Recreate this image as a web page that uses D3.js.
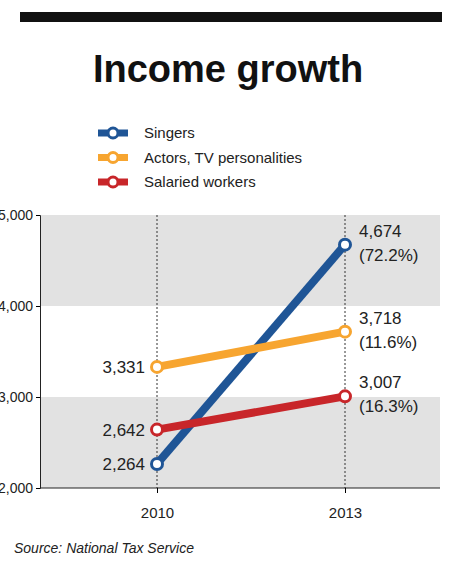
<!DOCTYPE html><html><head><script src="https://cdn.jsdelivr.net/npm/d3@7"></script>
<style>body{margin:0;background:#fff;font-family:"Liberation Sans",Arial,sans-serif}</style></head><body>
<script>
const years=["2010","2013"];
const seriesNames=["Singers","Actors, TV personalities","Salaried workers"];
const colors=["#1f5596","#f7a530","#c8262a"];
const singers=[2264,4674], actors=[3331,3718], workers=[2642,3007];
const pct=["(72.2%)","(11.6%)","(16.3%)"];
const yTicks=[2000,3000,4000,5000];
const series=[singers,actors,workers];
const W=450,H=564;
const svg=d3.select("body").append("svg").attr("width",W).attr("height",H);
svg.append("rect").attr("x",20).attr("y",12).attr("width",422).attr("height",10).attr("fill","#111");
svg.append("text").attr("x",228).attr("y",82).attr("text-anchor","middle").attr("font-size",38).attr("font-weight","bold").attr("fill","#111").text("Income growth");
const y=d3.scaleLinear().domain([2000,5000]).range([488,215]);
const x=d3.scalePoint().domain(years).range([157,345]);
const L=40,R=440;
[[4000,5000],[2000,3000]].forEach(b=>svg.append("rect").attr("x",L).attr("width",R-L).attr("y",y(b[1])).attr("height",y(b[0])-y(b[1])).attr("fill","#e2e2e2"));
years.forEach(d=>svg.append("line").attr("x1",x(d)).attr("x2",x(d)).attr("y1",y(5000)).attr("y2",y(2000)).attr("stroke","#333").attr("stroke-dasharray","2,2"));
const ya=svg.append("g").attr("transform",`translate(${L},0)`).call(d3.axisLeft(y).tickValues(yTicks).tickFormat(d3.format(",")).tickSize(4).tickPadding(3));
ya.selectAll("text").attr("font-size",14).attr("fill","#222").attr("font-family","Liberation Sans");
ya.select(".domain").attr("stroke","#222");
const xa=svg.append("g").attr("transform",`translate(0,${y(2000)})`).call(d3.axisBottom(x).tickSize(5).tickPadding(14));
xa.selectAll("text").attr("font-size",15).attr("fill","#222").attr("font-family","Liberation Sans");
xa.select(".domain").attr("d",`M${L},0H${R}`).attr("stroke","#222");
const line=d3.line().x((d,i)=>x(years[i])).y(d=>y(d));
series.forEach((s,k)=>{
 svg.append("path").attr("d",line(s)).attr("stroke",colors[k]).attr("stroke-width",8).attr("fill","none");
});
series.forEach((s,k)=>{
 s.forEach((v,i)=>svg.append("circle").attr("cx",x(years[i])).attr("cy",y(v)).attr("r",5.5).attr("fill","#fff").attr("stroke",colors[k]).attr("stroke-width",3));
 svg.append("text").attr("x",x(years[0])-12).attr("y",y(s[0])+6).attr("text-anchor","end").attr("font-size",17).attr("fill","#222").text(d3.format(",")(s[0]));
 svg.append("text").attr("x",x(years[1])+14).attr("y",y(s[1])-8).attr("font-size",17).attr("fill","#222").text(d3.format(",")(s[1]));
 svg.append("text").attr("x",x(years[1])+14).attr("y",y(s[1])+16).attr("font-size",17).attr("fill","#222").text(pct[k]);
});
seriesNames.forEach((n,k)=>{
 const ly=133+k*24.5;
 svg.append("line").attr("x1",98).attr("x2",128).attr("y1",ly).attr("y2",ly).attr("stroke",colors[k]).attr("stroke-width",7);
 svg.append("circle").attr("cx",113).attr("cy",ly).attr("r",5).attr("fill","#fff").attr("stroke",colors[k]).attr("stroke-width",3);
 svg.append("text").attr("x",144).attr("y",ly+5).attr("font-size",15).attr("fill","#222").text(n);
});
svg.append("text").attr("x",14).attr("y",553).attr("font-size",14).attr("font-style","italic").attr("fill","#222").text("Source: National Tax Service");
</script></body></html>
